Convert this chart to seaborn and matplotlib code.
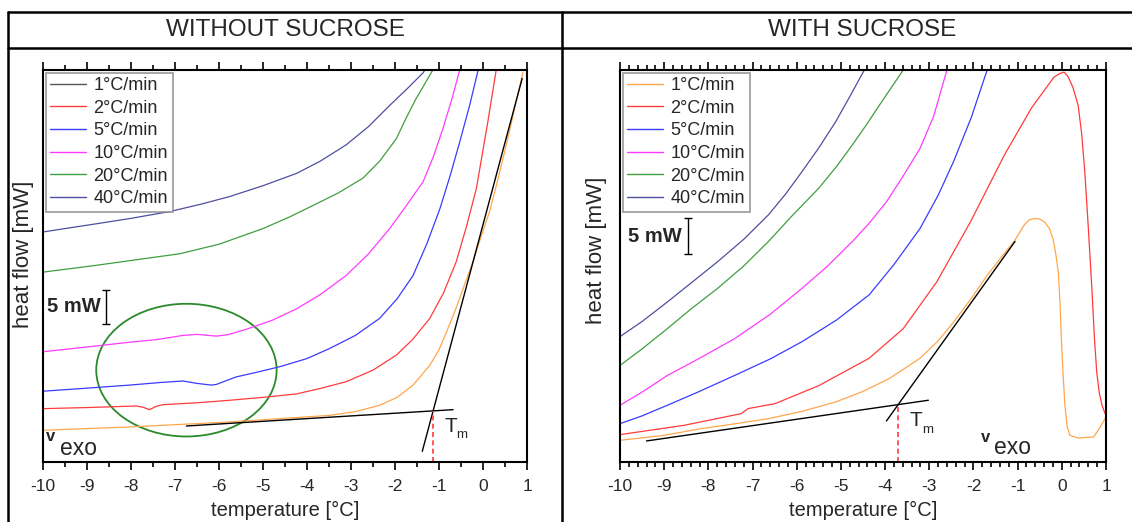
"""
DSC heating curves with and without sucrose, two panels in a table frame.
"""
import numpy as np
import matplotlib
matplotlib.use("Agg")
import matplotlib.pyplot as plt
from matplotlib.lines import Line2D
from matplotlib.patches import Ellipse
from matplotlib.ticker import MultipleLocator, NullLocator
import seaborn as sns

# ---------------- data ----------------
rates = ["1°C/min", "2°C/min", "5°C/min", "10°C/min", "20°C/min", "40°C/min"]
colors = ["#ffa64d", "#ff3b3b", "#3b3bff", "#ff3bff", "#3f9f3f", "#4f4f9f"]

# without sucrose
wo_t_1 = [-10, -8.03, -5.76, -3.48, -2.9, -2.35, -1.95, -1.59, -1.21, -1.0, -0.83, -0.63,
          -0.45, -0.23, -0.05, 0.15, 0.35, 0.53, 0.72, 0.91]
wo_h_1 = [4.66, 5.15, 5.88, 6.86, 7.4, 8.33, 9.5, 11.3, 14.2, 16.5, 19.1, 22.3,
          25.5, 29.4, 33.0, 36.8, 41.8, 46.6, 52.0, 57.3]
wo_t_2 = [-10, -9, -7.88, -7.73, -7.58, -7.42, -7.27, -6.5, -5.76, -5.0, -4.24, -3.7,
          -3.11, -2.5, -1.97, -1.6, -1.21, -0.9, -0.61, -0.38, -0.15, 0.11, 0.30]
wo_h_2 = [7.84, 8.0, 8.23, 8.05, 7.69, 8.2, 8.43, 8.7, 9.07, 9.5, 10.0, 10.8,
          11.8, 13.5, 15.7, 18.0, 21.1, 24.8, 29.4, 34.5, 40.2, 50.0, 57.6]
wo_t_5 = [-10, -9, -8.03, -7.3, -6.82, -6.5, -6.17, -6.06, -5.61, -5.2, -4.62, -4.0,
          -3.48, -2.9, -2.35, -1.95, -1.59, -1.28, -0.98, -0.75, -0.53, -0.3, -0.11]
wo_h_5 = [10.4, 10.85, 11.3, 11.7, 11.9, 11.55, 11.3, 11.4, 12.5, 13.1, 14.0, 15.2,
          16.7, 18.6, 21.1, 24.0, 27.4, 32.0, 37.2, 42.0, 47.0, 52.5, 57.6]
wo_t_10 = [-10, -9, -8.03, -7.4, -6.82, -6.5, -6.06, -5.8, -5.38, -4.8, -4.24, -3.7,
           -3.11, -2.6, -2.12, -1.75, -1.36, -1.12, -0.91, -0.7, -0.53]
wo_h_10 = [16.2, 16.9, 17.6, 18.0, 18.6, 18.75, 18.5, 18.7, 19.5, 20.8, 22.5, 24.6,
           27.4, 30.6, 34.3, 37.6, 41.2, 45.0, 49.0, 53.5, 57.6]
wo_t_20 = [-10, -8.79, -7.9, -6.89, -6.0, -5.0, -4.4, -3.86, -3.3, -2.73, -2.35,
           -1.97, -1.75, -1.52, -1.14]
wo_h_20 = [27.9, 28.9, 29.7, 30.6, 32.0, 34.3, 36.0, 37.7, 39.5, 41.7, 44.2,
           47.5, 50.5, 53.4, 57.6]
wo_t_40 = [-10, -9.4, -8.79, -8.0, -7.12, -6.4, -5.76, -5.0, -4.24, -3.7, -3.11,
           -2.6, -2.12, -1.7, -1.36, -1.3]
wo_h_40 = [33.8, 34.4, 35.0, 35.8, 36.8, 37.9, 39.0, 40.6, 42.4, 44.2, 46.6,
           49.3, 52.4, 55.0, 57.2, 57.8]

wo_base_t = [-6.74, -0.68]
wo_base_h = [5.29, 7.69]
wo_slope_t = [-1.38, 0.89]
wo_slope_h = [1.57, 56.35]
wo_tm = -1.13
wo_tm_h = 7.45

# with sucrose
w_t_1 = [-10, -9, -8.17, -7.4, -6.64, -5.9, -5.12, -4.5, -3.90, -3.21, -2.8, -2.45,
         -2.05, -1.69, -1.35, -1.08, -0.85, -0.74, -0.62, -0.5, -0.39, -0.28, -0.20,
         -0.14, -0.08, -0.04, -0.01, 0.03, 0.07, 0.12, 0.18, 0.37, 0.72, 0.87, 1.0]
w_h_1 = [3.01, 3.7, 4.63, 5.3, 6.02, 7.0, 8.33, 9.8, 11.6, 14.4, 16.8, 19.4,
         22.7, 25.9, 28.6, 30.6, 32.9, 33.6, 33.8, 33.7, 33.3, 32.4, 31.0,
         29.0, 26.4, 22.0, 17.1, 12.0, 7.87, 5.0, 3.70, 3.33, 3.47, 4.86, 6.25]
w_t_2 = [-10, -8.55, -7.26, -7.10, -6.49, -5.50, -4.36, -3.59, -2.83, -2.07, -1.30,
         -0.69, -0.31, -0.18, -0.05, 0.05, 0.14, 0.25, 0.37, 0.45, 0.52, 0.60, 0.68,
         0.74, 0.79, 0.85, 0.91, 0.98]
w_h_2 = [3.80, 5.09, 6.71, 7.41, 8.10, 10.6, 14.4, 18.5, 25.0, 33.3, 42.6,
         49.1, 52.3, 53.4, 53.9, 54.1, 53.5, 52.0, 49.5, 45.5, 40.3, 32.5, 24.1,
         17.0, 12.5, 9.5, 7.87, 6.71]
w_t_5 = [-10, -9.5, -8.93, -8.2, -7.41, -6.6, -5.88, -5.1, -4.36, -3.8, -3.21,
         -2.8, -2.45, -2.05, -1.69]
w_h_5 = [5.32, 6.4, 7.87, 9.8, 12.0, 14.3, 16.7, 19.7, 23.2, 27.4, 32.4,
         37.0, 41.7, 47.8, 54.4]
w_t_10 = [-10, -9.5, -8.93, -8.2, -7.41, -6.6, -5.88, -5.3, -4.74, -4.35, -3.97,
          -3.6, -3.21, -2.9, -2.60]
w_h_10 = [7.87, 9.7, 12.0, 14.4, 17.1, 20.5, 24.1, 27.2, 30.6, 33.2, 36.1,
          39.6, 43.5, 48.0, 54.4]
w_t_20 = [-10, -9.5, -8.93, -8.4, -7.79, -7.2, -6.64, -6.1, -5.50, -5.1, -4.74,
          -4.4, -4.13, -3.59]
w_h_20 = [13.4, 15.7, 18.5, 21.2, 24.1, 27.2, 30.6, 34.2, 38.0, 41.0, 44.0,
          47.0, 49.5, 54.4]
w_t_40 = [-10, -9.5, -8.93, -8.4, -7.79, -7.2, -6.64, -6.25, -5.88, -5.5, -5.12,
          -4.8, -4.47]
w_h_40 = [17.4, 19.5, 22.2, 24.8, 27.8, 30.9, 34.3, 37.2, 40.3, 43.6, 47.2,
          50.7, 54.4]

w_base_t = [-9.40, -3.02]
w_base_h = [2.92, 8.57]
w_slope_t = [-3.97, -1.06]
w_slope_h = [5.69, 30.6]
w_tm = -3.71
w_tm_h = 7.96

xticks = list(range(-10, 2))

# ---------------- style ----------------
sns.set_style("white")
plt.rcParams["font.family"] = ["Liberation Sans", "DejaVu Sans"]

fig = plt.figure(figsize=(11.32, 5.22), dpi=100)
W, H = 1132, 522


def fx(px):
    return px / W


def fy(py):
    return 1 - py / H


ax_l = fig.add_axes([fx(43), fy(462), fx(527) - fx(43), fy(70) - fy(462)])
ax_r = fig.add_axes([fx(620), fy(462), fx(1106) - fx(620), fy(70) - fy(462)])


def draw_curves(ax, ts, hs):
    for t, h, c in zip(ts, hs, colors):
        sns.lineplot(x=t, y=h, color=c, lw=0.9, ax=ax, sort=False, estimator=None)


def style_axes(ax, ymax, minor):
    ax.set_xlim(-10, 1)
    ax.set_ylim(0, ymax)
    ax.set_xticks(xticks)
    ax.set_xticklabels([str(v) for v in xticks], fontsize=12.5)
    ax.xaxis.set_minor_locator(MultipleLocator(minor))
    ax.yaxis.set_major_locator(NullLocator())
    ax.tick_params(axis="x", which="both", direction="out", top=True, bottom=True,
                   labeltop=False, color="black", width=1.2)
    ax.tick_params(axis="x", which="major", length=6, pad=6)
    ax.tick_params(axis="x", which="minor", length=3.5)
    for s in ax.spines.values():
        s.set_color("black")
        s.set_linewidth(1.5)
    ax.set_xlabel("temperature [°C]", fontsize=14.5, labelpad=5)
    ax.set_ylabel("heat flow [mW]", fontsize=16)


def add_legend(ax, first_color):
    handles = [Line2D([], [], color=c, lw=1) for c in [first_color] + colors[1:]]
    leg = ax.legend(handles, rates, loc="upper left", fontsize=13, frameon=True,
                    fancybox=False, edgecolor="#808080", borderaxespad=0.15,
                    handlelength=2.0, handletextpad=0.4, labelspacing=0.31,
                    borderpad=0.25)
    leg.get_frame().set_linewidth(1.2)


# ---------------- left panel ----------------
draw_curves(ax_l, [wo_t_1, wo_t_2, wo_t_5, wo_t_10, wo_t_20, wo_t_40],
            [wo_h_1, wo_h_2, wo_h_5, wo_h_10, wo_h_20, wo_h_40])
ax_l.plot(wo_base_t, wo_base_h, color="black", lw=1)
ax_l.plot(wo_slope_t, wo_slope_h, color="black", lw=1)
ax_l.plot([wo_tm, wo_tm], [0, wo_tm_h], color="#ff3b3b", lw=1.2, ls=(0, (3, 2)))
ax_l.add_patch(Ellipse((-6.74, 13.5), 4.1, 19.5, fill=False, edgecolor="#2a8a2a", lw=1.3))
ax_l.text(-0.87, 5.2, "T", fontsize=15, ha="left", va="center")
ax_l.text(-0.6, 3.9, "m", fontsize=9.5, ha="left", va="center")
ax_l.errorbar([-8.56], [22.8], yerr=[2.5], color="black", lw=1, capsize=3, capthick=1)
ax_l.text(-9.92, 22.8, "5 mW", fontsize=14.5, fontweight="bold", ha="left", va="center")
ax_l.text(-9.93, 3.7, "v", fontsize=12, fontweight="bold", ha="left", va="center")
ax_l.text(-9.62, 2.0, "exo", fontsize=16.5, ha="left", va="center")
style_axes(ax_l, 57.6, 0.5)
ax_l.yaxis.set_label_coords(-0.019, 0.53)
add_legend(ax_l, "#555555")

# ---------------- right panel ----------------
draw_curves(ax_r, [w_t_1, w_t_2, w_t_5, w_t_10, w_t_20, w_t_40],
            [w_h_1, w_h_2, w_h_5, w_h_10, w_h_20, w_h_40])
ax_r.plot(w_base_t, w_base_h, color="black", lw=1)
ax_r.plot(w_slope_t, w_slope_h, color="black", lw=1)
ax_r.plot([w_tm, w_tm], [0, w_tm_h], color="#ff3b3b", lw=1.2, ls=(0, (3, 2)))
ax_r.text(-3.44, 5.8, "T", fontsize=15, ha="left", va="center")
ax_r.text(-3.17, 4.5, "m", fontsize=9.5, ha="left", va="center")
ax_r.errorbar([-8.47], [31.3], yerr=[2.5], color="black", lw=1, capsize=3, capthick=1)
ax_r.text(-9.81, 31.3, "5 mW", fontsize=14.5, fontweight="bold", ha="left", va="center")
ax_r.text(-1.82, 3.4, "v", fontsize=12, fontweight="bold", ha="left", va="center")
ax_r.text(-1.53, 2.0, "exo", fontsize=16.5, ha="left", va="center")
style_axes(ax_r, 54.4, 0.2)
ax_r.yaxis.set_label_coords(-0.027, 0.54)
add_legend(ax_r, colors[0])

# ---------------- table frame ----------------
lk = dict(transform=fig.transFigure, color="black", lw=1.8)
fig.add_artist(Line2D([fx(8), 1], [fy(12), fy(12)], **lk))
fig.add_artist(Line2D([fx(8), 1], [fy(48), fy(48)], **lk))
fig.add_artist(Line2D([fx(8), fx(8)], [0, fy(12)], **lk))
fig.add_artist(Line2D([fx(562), fx(562)], [0, fy(12)], **lk))
fig.text(fx(285), fy(30), "WITHOUT SUCROSE", fontsize=17.5, ha="center", va="center")
fig.text(fx(862), fy(30), "WITH SUCROSE", fontsize=17.5, ha="center", va="center")

fig.savefig("out.png", dpi=100)
